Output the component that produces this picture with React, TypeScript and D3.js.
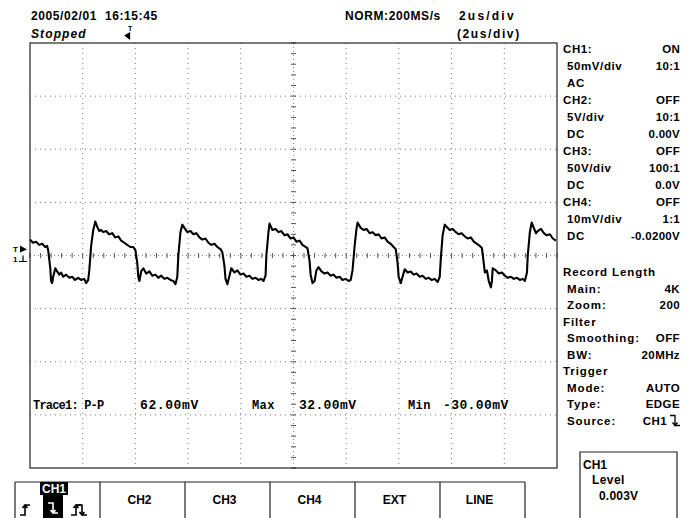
import React from 'react';
import * as d3 from 'd3';

// CH1 trace: [time (us), voltage (mV)]
const trace: [number, number][] = [
  [-10.0, 15], [-9.89, 12], [-9.77, 13], [-9.65, 10], [-9.54, 11], [-9.42, 8], [-9.35, 9], [-9.31, 5],
  [-9.23, -12], [-9.2, -24], [-9.16, -26], [-9.12, -20], [-9.04, -12], [-8.97, -15], [-8.89, -18], [-8.82, -16],
  [-8.74, -20], [-8.63, -18], [-8.51, -21], [-8.4, -20], [-8.29, -23], [-8.17, -21], [-8.06, -23], [-7.94, -22],
  [-7.87, -26], [-7.79, -23], [-7.75, -14], [-7.68, 9], [-7.6, 24], [-7.52, 32], [-7.45, 27], [-7.37, 23],
  [-7.3, 24], [-7.22, 22], [-7.11, 23], [-7.0, 20], [-6.88, 21], [-6.77, 17], [-6.65, 18], [-6.54, 14],
  [-6.42, 12], [-6.31, 10], [-6.19, 8], [-6.08, 8], [-6.0, 5], [-5.93, -7], [-5.89, -20], [-5.85, -24],
  [-5.78, -15], [-5.7, -12], [-5.59, -17], [-5.47, -15], [-5.36, -19], [-5.24, -18], [-5.13, -21], [-5.02, -19],
  [-4.9, -22], [-4.79, -21], [-4.67, -23], [-4.56, -24], [-4.48, -27], [-4.41, -20], [-4.37, 0], [-4.29, 22],
  [-4.22, 29], [-4.14, 26], [-4.03, 22], [-3.91, 23], [-3.8, 20], [-3.69, 21], [-3.57, 17], [-3.46, 15],
  [-3.34, 16], [-3.23, 12], [-3.12, 10], [-3.0, 11], [-2.89, 8], [-2.77, 6], [-2.7, 3], [-2.62, -10],
  [-2.58, -22], [-2.51, -27], [-2.43, -19], [-2.36, -12], [-2.24, -16], [-2.13, -14], [-2.01, -18], [-1.9, -17],
  [-1.79, -20], [-1.67, -19], [-1.56, -22], [-1.44, -21], [-1.33, -23], [-1.22, -22], [-1.14, -24], [-1.06, -19],
  [-1.03, 0], [-0.95, 22], [-0.91, 30], [-0.8, 24], [-0.68, 25], [-0.57, 22], [-0.46, 23], [-0.34, 19],
  [-0.23, 20], [-0.11, 16], [0.0, 17], [0.11, 13], [0.23, 14], [0.34, 10], [0.46, 8], [0.53, 7],
  [0.61, -5], [0.65, -18], [0.72, -26], [0.8, -24], [0.87, -14], [0.95, -11], [1.06, -15], [1.18, -17],
  [1.29, -16], [1.41, -19], [1.52, -18], [1.63, -21], [1.75, -20], [1.86, -23], [1.98, -22], [2.09, -24],
  [2.17, -23], [2.24, -14], [2.32, 9], [2.39, 25], [2.43, 31], [2.55, 26], [2.66, 24], [2.77, 25],
  [2.89, 21], [3.0, 22], [3.12, 19], [3.23, 20], [3.34, 16], [3.46, 17], [3.57, 13], [3.69, 11],
  [3.8, 8], [3.88, 6], [3.95, -7], [3.99, -20], [4.07, -26], [4.14, -20], [4.22, -13], [4.33, -16],
  [4.45, -15], [4.56, -18], [4.67, -17], [4.79, -20], [4.9, -19], [5.02, -22], [5.13, -21], [5.24, -23],
  [5.36, -22], [5.47, -25], [5.55, -20], [5.59, -3], [5.66, 19], [5.74, 29], [5.81, 27], [5.93, 24],
  [6.04, 25], [6.16, 22], [6.27, 20], [6.38, 21], [6.5, 18], [6.61, 16], [6.73, 17], [6.84, 13],
  [6.96, 11], [7.07, 9], [7.15, 7], [7.22, -7], [7.26, -16], [7.34, -14], [7.41, -24], [7.49, -30],
  [7.53, -24], [7.56, -12], [7.68, -14], [7.79, -17], [7.91, -16], [8.02, -19], [8.13, -21], [8.25, -20],
  [8.36, -22], [8.48, -21], [8.59, -23], [8.7, -22], [8.78, -24], [8.86, -16], [8.89, 0], [8.97, 22],
  [9.04, 31], [9.12, 26], [9.2, 21], [9.27, 23], [9.39, 25], [9.5, 21], [9.61, 19], [9.73, 20],
  [9.84, 16], [9.96, 14],
];

// 2us/div x 10 div, 50mV/div x 8 div
const timeRange = [-10, 10];
const voltRange = [-200, 200];

const dateTime = '2005/02/01  16:15:45';
const runState = 'Stopped';
const acqMode = 'NORM:200MS/s';
const timeDiv = '2us/div';
const zoomDiv = '(2us/div)';

const channelRows = [
  ['CH1:', 'ON'], ['50mV/div', '10:1'], ['AC', ''],
  ['CH2:', 'OFF'], ['5V/div', '10:1'], ['DC', '0.00V'],
  ['CH3:', 'OFF'], ['50V/div', '100:1'], ['DC', '0.0V'],
  ['CH4:', 'OFF'], ['10mV/div', '1:1'], ['DC', '-0.0200V'],
];
const settingRows = [
  ['Record Length', ''], ['Main:', '4K'], ['Zoom:', '200'],
  ['Filter', ''], ['Smoothing:', 'OFF'], ['BW:', '20MHz'],
  ['Trigger', ''], ['Mode:', 'AUTO'], ['Type:', 'EDGE'], ['Source:', 'CH1'],
];
const measureLabels = ['Trace1: P-P', 'Max', 'Min'];
const measureValues = ['62.00mV', '32.00mV', '-30.00mV'];
const sourceButtons = ['CH1', 'CH2', 'CH3', 'CH4', 'EXT', 'LINE'];
const levelBox = ['CH1', 'Level', '0.003V'];

const W = 691;
const H = 518;
const plot = { left: 30, right: 557, top: 43, bottom: 468 };

const sans = '"Liberation Sans", Arial, sans-serif';
const mono = '"Liberation Mono", "DejaVu Sans Mono", monospace';

// little edge icons: dir 1 = rising, -1 = falling
function edgePath(cx: number, cy: number, dir: number) {
  const s = dir;
  return `M${cx - 5},${cy + 5 * s} H${cx} V${cy - 5 * s} H${cx + 5} M${cx - 2.5},${cy - 2 * s} L${cx},${cy - 5 * s} L${cx + 2.5},${cy - 2 * s}`;
}

export default function App() {
  const x = d3.scaleLinear().domain(timeRange).range([plot.left, plot.right]);
  const y = d3.scaleLinear().domain(voltRange).range([plot.bottom, plot.top]);
  const x0 = x(0);
  const y0 = y(0);

  const xTicks = x.ticks(10).filter(t => t !== timeRange[0] && t !== timeRange[1] && t !== 0);
  const yTicks = y.ticks(8).filter(v => v !== voltRange[0] && v !== voltRange[1] && v !== 0);
  const xMinor = d3.range(timeRange[0], timeRange[1] + 0.001, 0.4);
  const yMinor = d3.range(voltRange[0], voltRange[1] + 0.1, 10);

  const line = d3.line<[number, number]>()
    .x(d => x(d[0]))
    .y(d => y(d[1]));

  const panelX = 563;
  const valueX = 680;
  const btn = d3.scaleBand<string>().domain(sourceButtons).range([15, 525]);

  const txt = { fontFamily: sans, fontWeight: 700, fontSize: 12 } as const;

  return (
    <svg width={W} height={H} style={{ position: 'absolute', left: 0, top: 0, background: '#fff' }}>
      {/* header */}
      <text x={31} y={20} {...txt} letterSpacing={0.6} style={{ whiteSpace: 'pre' }}>{dateTime}</text>
      <text x={31} y={38} {...txt} fontStyle="italic" letterSpacing={1.1}>{runState}</text>
      <text x={345} y={20} {...txt} letterSpacing={0.6}>{acqMode}</text>
      <text x={459} y={20} {...txt} letterSpacing={2.2}>{timeDiv}</text>
      <text x={457} y={38} {...txt} letterSpacing={1.6}>{zoomDiv}</text>
      {/* trigger position marker */}
      <text x={128} y={31} fontFamily={sans} fontSize={7} fontWeight={700}>T</text>
      <path d={`M${x(-6.2)},32 V40 L${x(-6.2) - 6},35.5 Z`} fill="#000" />

      {/* grid */}
      {xTicks.map(t => (
        <line key={'vx' + t} x1={x(t)} x2={x(t)} y1={plot.top} y2={plot.bottom}
          stroke="#777" strokeWidth={1} strokeDasharray="1 4" />
      ))}
      {yTicks.map(v => (
        <line key={'hy' + v} x1={plot.left} x2={plot.right} y1={y(v)} y2={y(v)}
          stroke="#777" strokeWidth={1} strokeDasharray="1 4" />
      ))}
      <line x1={x0} x2={x0} y1={plot.top} y2={plot.bottom} stroke="#888" strokeDasharray="1 3" />
      <line x1={plot.left} x2={plot.right} y1={y0} y2={y0} stroke="#888" strokeDasharray="1 3" />
      {yMinor.map(v => (
        <line key={'my' + v} x1={x0 - 2.5} x2={x0 + 2.5} y1={y(v)} y2={y(v)} stroke="#555" />
      ))}
      {xMinor.map(t => (
        <line key={'mx' + t} x1={x(t)} x2={x(t)} y1={y0 - 2.5} y2={y0 + 2.5} stroke="#555" />
      ))}

      {/* trace */}
      <path d={line(trace) || ''} fill="none" stroke="#000" strokeWidth={2.1} strokeLinejoin="round" />

      {/* plot frame */}
      <rect x={plot.left} y={plot.top} width={plot.right - plot.left} height={plot.bottom - plot.top}
        fill="none" stroke="#222" strokeWidth={1.2} />

      {/* channel / ground marker */}
      <text x={13} y={252} fontFamily={sans} fontSize={8} fontWeight={700}>T</text>
      <path d={`M20,${y0 - 10} L27,${y0 - 6} L20,${y0 - 3} Z`} fill="#000" />
      <text x={13} y={y0 + 6} fontFamily={sans} fontSize={8} fontWeight={700}>1</text>
      <path d={`M19,${y0 + 6} H27 M23,${y0 + 6} V${y0}`} stroke="#000" strokeWidth={1.2} fill="none" />

      {/* measurements */}
      <g fontFamily={mono} fontWeight={700} fontSize={12}>
        <text x={33} y={409} letterSpacing={-0.8}>{measureLabels[0]}</text>
        <text x={140} y={409} fontSize={13} letterSpacing={0.6}>{measureValues[0]}</text>
        <text x={252} y={409} letterSpacing={0.4}>{measureLabels[1]}</text>
        <text x={299} y={409} fontSize={13} letterSpacing={0.4}>{measureValues[1]}</text>
        <text x={408} y={409} letterSpacing={0.4}>{measureLabels[2]}</text>
        <text x={443} y={409} fontSize={13} letterSpacing={0.4}>{measureValues[2]}</text>
      </g>

      {/* right status panel */}
      <g {...txt} fontSize={11.5}>
        {channelRows.map(([label, value], i) => {
          const yy = 53 + i * 17;
          const head = label.startsWith('CH');
          return (
            <g key={'c' + i}>
              <text x={head ? panelX : panelX + 4} y={yy} letterSpacing={0.6}>{label}</text>
              <text x={valueX} y={yy} textAnchor="end" letterSpacing={0.3}>{value}</text>
            </g>
          );
        })}
        {settingRows.map(([label, value], i) => {
          const yy = 276 + i * 16.5;
          const head = value === '';
          const isSource = label === 'Source:';
          return (
            <g key={'s' + i}>
              <text x={head ? panelX : panelX + 4} y={yy} letterSpacing={0.9}>{label}</text>
              <text x={isSource ? valueX - 13 : valueX} y={yy} textAnchor="end" letterSpacing={0.4}>{value}</text>
              {isSource && (
                <path d={edgePath(valueX - 5, yy - 4, -1)} stroke="#000" strokeWidth={1.3} fill="none" />
              )}
            </g>
          );
        })}
      </g>

      {/* trigger level box */}
      <path d={`M580,${H} V452 H677 V${H}`} fill="none" stroke="#222" strokeWidth={1.2} />
      <g {...txt}>
        <text x={583} y={469}>{levelBox[0]}</text>
        <text x={592} y={484} letterSpacing={0.4}>{levelBox[1]}</text>
        <text x={599} y={500} letterSpacing={0.2}>{levelBox[2]}</text>
      </g>

      {/* trigger source buttons */}
      <line x1={btn.range()[0]} x2={btn.range()[1]} y1={482} y2={482} stroke="#222" strokeWidth={1.2} />
      {sourceButtons.map((b, i) => {
        const bx = btn(b) as number;
        const bw = btn.bandwidth();
        return (
          <g key={b}>
            <line x1={bx} x2={bx} y1={482} y2={H} stroke="#222" strokeWidth={1.2} />
            {i === sourceButtons.length - 1 && (
              <line x1={bx + bw} x2={bx + bw} y1={482} y2={H} stroke="#222" strokeWidth={1.2} />
            )}
            {i === 0 ? (
              <g>
                <rect x={bx + 25} y={482} width={28} height={13} fill="#000" />
                <text x={bx + 39} y={493} textAnchor="middle" fill="#fff" {...txt}>{b}</text>
                <rect x={bx + 28} y={495} width={20} height={23} fill="#000" />
                <path d={edgePath(bx + 10, 510, 1)} stroke="#000" strokeWidth={1.6} fill="none" />
                <path d={edgePath(bx + 38, 508, -1)} stroke="#fff" strokeWidth={1.6} fill="none" />
                <path d={edgePath(bx + 61, 510, 1)} stroke="#000" strokeWidth={1.6} fill="none" />
                <path d={edgePath(bx + 67, 510, -1)} stroke="#000" strokeWidth={1.6} fill="none" />
              </g>
            ) : (
              <text x={bx + bw / 2 - 3} y={504} textAnchor="middle" {...txt}>{b}</text>
            )}
          </g>
        );
      })}
    </svg>
  );
}
